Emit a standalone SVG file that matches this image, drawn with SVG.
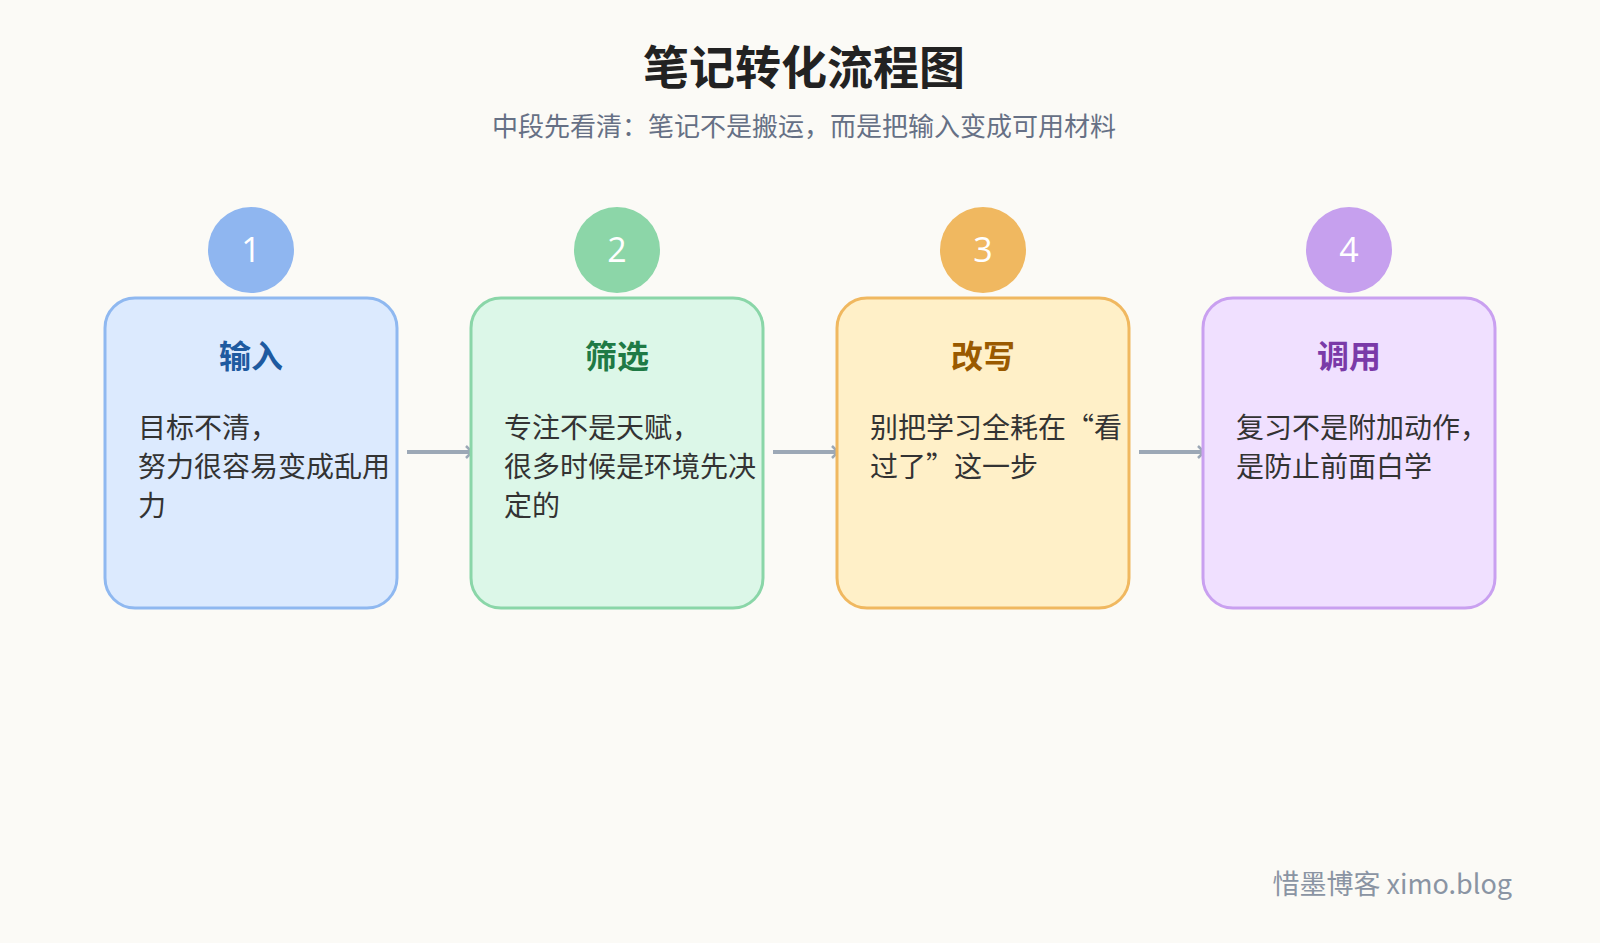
<svg xmlns="http://www.w3.org/2000/svg" width="1600" height="943" viewBox="0 0 1600 943">
<style>
text{font-family:"Noto Sans CJK SC","Noto Sans",sans-serif}
.t{font-size:46px;font-weight:700;fill:#222;text-anchor:middle}
.s{font-size:26px;fill:#667085;text-anchor:middle}
.h{font-size:32px;font-weight:700;text-anchor:middle}
.b{font-size:28px;fill:#333}
.n{font-size:34px;fill:#fff;text-anchor:middle;font-family:"Open Sans",sans-serif}
.box{stroke-width:3}
.c{stroke:#9ca8b6;stroke-width:4;fill:none}
</style>
<defs><marker id="a" markerWidth="10" markerHeight="14" refX="8" refY="7" orient="auto" markerUnits="userSpaceOnUse"><path d="M2,1 L8,7 L2,13" fill="none" stroke="#9ca8b6" stroke-width="2.5"/></marker></defs>
<rect width="1600" height="943" fill="#fbfaf6"/>
<text class="t" x="804" y="84">笔记转化流程图</text>
<text class="s" x="804" y="136">中段先看清：笔记不是搬运，而是把输入变成可用材料</text>
<g id="connectors">
<line class="c" x1="407" y1="452" x2="472" y2="452" marker-end="url(#a)"/>
<line class="c" x1="773" y1="452" x2="838" y2="452" marker-end="url(#a)"/>
<line class="c" x1="1139" y1="452" x2="1204" y2="452" marker-end="url(#a)"/>
</g>
<g id="n1"><rect class="box" x="105" y="298" width="292" height="310" rx="30" fill="#dceafe" stroke="#8fb8f0"/><circle cx="251" cy="250" r="43" fill="#8fb6f0"/><text class="n" x="251" y="262">1</text><text class="h" x="251" y="368" fill="#1e5aa0">输入</text><text class="b" x="138" y="438">目标不清，</text><text class="b" x="138" y="477">努力很容易变成乱用</text><text class="b" x="138" y="516">力</text></g>
<g id="n2"><rect class="box" x="471" y="298" width="292" height="310" rx="30" fill="#dcf7e8" stroke="#8ad6a8"/><circle cx="617" cy="250" r="43" fill="#8cd6a8"/><text class="n" x="617" y="262">2</text><text class="h" x="617" y="368" fill="#1f7a45">筛选</text><text class="b" x="504" y="438">专注不是天赋，</text><text class="b" x="504" y="477">很多时候是环境先决</text><text class="b" x="504" y="516">定的</text></g>
<g id="n3"><rect class="box" x="837" y="298" width="292" height="310" rx="30" fill="#fff0c8" stroke="#f0b860"/><circle cx="983" cy="250" r="43" fill="#f0b860"/><text class="n" x="983" y="262">3</text><text class="h" x="983" y="368" fill="#9a5a00">改写</text><text class="b" x="870" y="438">别把学习全耗在“看</text><text class="b" x="870" y="477">过了”这一步</text></g>
<g id="n4"><rect class="box" x="1203" y="298" width="292" height="310" rx="30" fill="#f0e0ff" stroke="#c9a0f0"/><circle cx="1349" cy="250" r="43" fill="#c6a0ee"/><text class="n" x="1349" y="262">4</text><text class="h" x="1349" y="368" fill="#7a3aa8">调用</text><text class="b" x="1236" y="438">复习不是附加动作，</text><text class="b" x="1236" y="477">是防止前面白学</text></g>
<text x="1512" y="894" font-size="27" fill="#8a94a3" text-anchor="end">惜墨博客 ximo.blog</text>
</svg>
